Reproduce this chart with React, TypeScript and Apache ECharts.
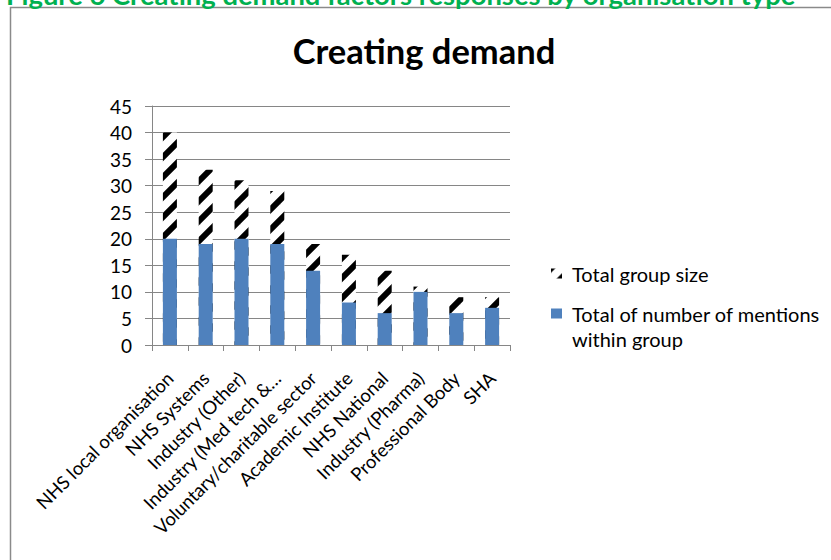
import React, { useEffect, useRef } from 'react';
import * as echarts from 'echarts';

const categories = [
  'NHS local organisation',
  'NHS Systems',
  'Industry (Other)',
  'Industry (Med tech &…',
  'Voluntary/charitable sector',
  'Academic Institute',
  'NHS National',
  'Industry (Pharma)',
  'Professional Body',
  'SHA',
];
const totalGroupSize = [40, 33, 31, 29, 19, 17, 14, 11, 9, 9];
const mentions = [20, 19, 20, 19, 14, 8, 6, 10, 6, 7];
const yMin = 0;
const yMax = 45;
const yStep = 5;

const SERIES_TOTAL = 'Total group size';
const SERIES_MENTIONS = 'Total of number of mentions within group';
const FONT = 'Lato';

function makeHatch(): string {
  const c = document.createElement('canvas');
  c.width = 20;
  c.height = 20;
  const ctx = c.getContext('2d')!;
  ctx.fillStyle = '#ffffff';
  ctx.fillRect(0, 0, 20, 20);
  ctx.strokeStyle = '#000000';
  ctx.lineWidth = 6;
  for (const k of [0, 20, 40]) {
    ctx.beginPath();
    ctx.moveTo(k - 25, 25);
    ctx.lineTo(25, k - 25);
    ctx.stroke();
  }
  return c.toDataURL();
}

export default function App() {
  const ref = useRef<HTMLDivElement>(null);
  useEffect(() => {
    if (!ref.current) return;
    const chart = echarts.init(ref.current, undefined, { renderer: 'svg' });
    const hatch = makeHatch();
    const hatchFill: any = { image: hatch, repeat: 'repeat', imageWidth: 20, imageHeight: 20 };
    const legendText = { fontSize: 20, color: '#000', fontFamily: FONT, lineHeight: 25, padding: [0, 0, 0, 5] };
    chart.setOption({
      animation: false,
      backgroundColor: '#ffffff',
      textStyle: { fontFamily: FONT },
      graphic: [
        {
          type: 'rect',
          silent: true,
          shape: { x: 10.5, y: 7.5, width: 900, height: 700 },
          style: { fill: 'none', stroke: '#8a8a8a', lineWidth: 1.5 },
        },
        {
          type: 'text',
          x: 6,
          y: -6,
          style: {
            text: 'Figure 6 Creating demand factors responses by organisation type',
            fontFamily: FONT,
            fontWeight: 'bold',
            fontSize: 27.4,
            fill: '#00B050',
            verticalAlign: 'middle',
          },
        },
        {
          type: 'text',
          x: 424,
          y: 50,
          style: {
            text: 'Creating demand',
            fontFamily: FONT,
            fontWeight: 'bold',
            fontSize: 34.5,
            fill: '#000000',
            align: 'center',
            verticalAlign: 'middle',
          },
        },
      ],
      legend: [
        {
          orient: 'vertical',
          left: 551,
          top: 261,
          padding: 0,
          itemWidth: 11,
          itemHeight: 10,
          icon: 'rect',
          data: [SERIES_TOTAL],
          textStyle: legendText,
        },
        {
          orient: 'vertical',
          left: 551,
          top: 276,
          padding: 0,
          itemWidth: 11,
          itemHeight: 10,
          icon: 'rect',
          data: [SERIES_MENTIONS],
          formatter: () => '\nTotal of number of mentions\nwithin group',
          textStyle: legendText,
        },
      ],
      grid: { left: 152, right: 321, top: 106, bottom: 215, containLabel: false },
      xAxis: {
        type: 'category',
        data: categories,
        axisLine: { lineStyle: { color: '#868686', width: 1 } },
        axisTick: { show: true, length: 6, lineStyle: { color: '#868686' } },
        axisLabel: { rotate: 45, interval: 0, fontSize: 18.5, color: '#000', margin: 30, fontFamily: FONT },
        splitLine: { show: false },
      },
      yAxis: {
        type: 'value',
        min: yMin,
        max: yMax,
        interval: yStep,
        axisLine: { show: true, lineStyle: { color: '#868686', width: 1 } },
        axisTick: { show: true, length: 7, lineStyle: { color: '#868686' } },
        axisLabel: { fontSize: 19, color: '#000', margin: 20, fontFamily: FONT },
        splitLine: { show: true, lineStyle: { color: '#868686', width: 1 } },
      },
      series: [
        {
          name: SERIES_TOTAL,
          type: 'bar',
          data: totalGroupSize,
          barWidth: 14,
          barGap: '-100%',
          itemStyle: { color: hatchFill },
        },
        {
          name: SERIES_MENTIONS,
          type: 'bar',
          data: mentions,
          barWidth: 14,
          barGap: '-100%',
          itemStyle: { color: '#4F81BD' },
        },
      ],
    });
    return () => chart.dispose();
  }, []);
  return <div ref={ref} style={{ position: 'fixed', left: 0, top: 0, width: 831, height: 560 }} />;
}
